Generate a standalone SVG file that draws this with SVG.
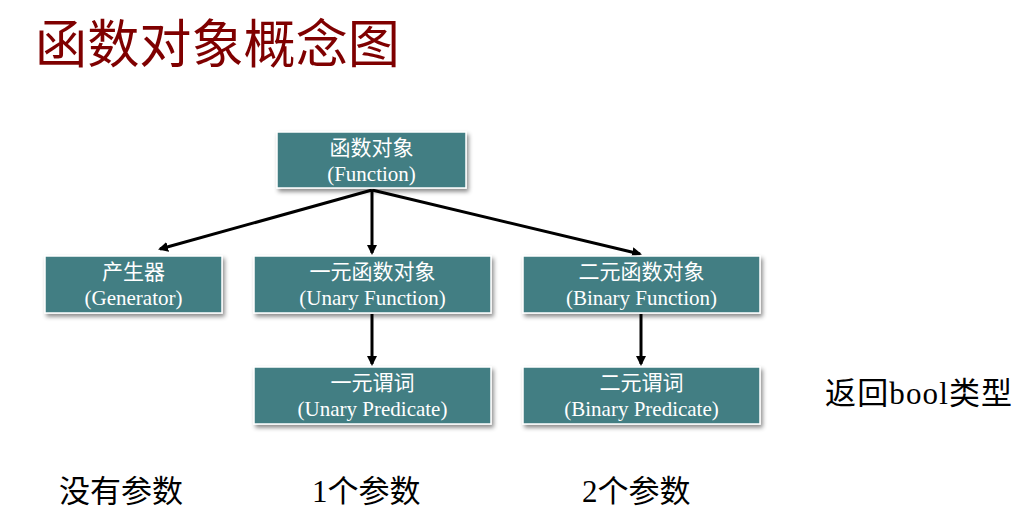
<svg xmlns="http://www.w3.org/2000/svg" width="1027" height="512" viewBox="0 0 1027 512">
<defs>
<filter id="sh" x="-10%" y="-10%" width="130%" height="140%">
<feDropShadow dx="2" dy="3" stdDeviation="2" flood-color="#000" flood-opacity="0.45"/>
</filter>
<marker id="ah" markerWidth="10" markerHeight="10" refX="8" refY="5" orient="auto" markerUnits="userSpaceOnUse">
<path d="M0,0 L10,5 L0,10 Z" fill="#000"/>
</marker>
<style>
.box{fill:#427E83;stroke:#fff;stroke-width:1.5;filter:url(#sh)}
.bt{font-family:"Liberation Serif","Noto Sans CJK SC",serif;font-size:21px;fill:#fff;text-anchor:middle}
.lbl{font-family:"Liberation Serif","Noto Sans CJK SC",serif;font-size:31px;fill:#000}
.c{stroke:#000;stroke-width:3;fill:none;marker-end:url(#ah)}
</style>
</defs>
<rect width="1027" height="512" fill="#fff"/>
<text x="35" y="63" font-family="'Noto Sans CJK SC',sans-serif" font-size="52" textLength="365" lengthAdjust="spacingAndGlyphs" fill="#7F0000">函数对象概念图</text>
<g id="connectors">
<line class="c" x1="372" y1="190" x2="160" y2="249"/>
<line class="c" x1="372" y1="190" x2="372" y2="253"/>
<line class="c" x1="372" y1="190" x2="640" y2="254"/>
<line class="c" x1="372" y1="314" x2="372" y2="364"/>
<line class="c" x1="641" y1="314" x2="641" y2="364"/>
</g>
<g id="function">
<rect class="box" x="277" y="132" width="189" height="56"/>
<text class="bt" x="371.5" y="155">函数对象</text>
<text class="bt" x="371.5" y="181">(Function)</text>
</g>
<g id="generator">
<rect class="box" x="45" y="256" width="177" height="57"/>
<text class="bt" x="133.5" y="279">产生器</text>
<text class="bt" x="133.5" y="305">(Generator)</text>
</g>
<g id="unary-function">
<rect class="box" x="254" y="256" width="237" height="57"/>
<text class="bt" x="372.5" y="279">一元函数对象</text>
<text class="bt" x="372.5" y="305">(Unary Function)</text>
</g>
<g id="binary-function">
<rect class="box" x="523" y="256" width="237" height="57"/>
<text class="bt" x="641.5" y="279">二元函数对象</text>
<text class="bt" x="641.5" y="305">(Binary Function)</text>
</g>
<g id="unary-predicate">
<rect class="box" x="254" y="367" width="237" height="57"/>
<text class="bt" x="372.5" y="390">一元谓词</text>
<text class="bt" x="372.5" y="416">(Unary Predicate)</text>
</g>
<g id="binary-predicate">
<rect class="box" x="523" y="367" width="237" height="57"/>
<text class="bt" x="641.5" y="390">二元谓词</text>
<text class="bt" x="641.5" y="416">(Binary Predicate)</text>
</g>
<text class="lbl" x="825" y="404" textLength="187" lengthAdjust="spacing">返回bool类型</text>
<text class="lbl" x="59" y="502">没有参数</text>
<text class="lbl" x="312" y="502">1个参数</text>
<text class="lbl" x="582" y="502">2个参数</text>
</svg>
